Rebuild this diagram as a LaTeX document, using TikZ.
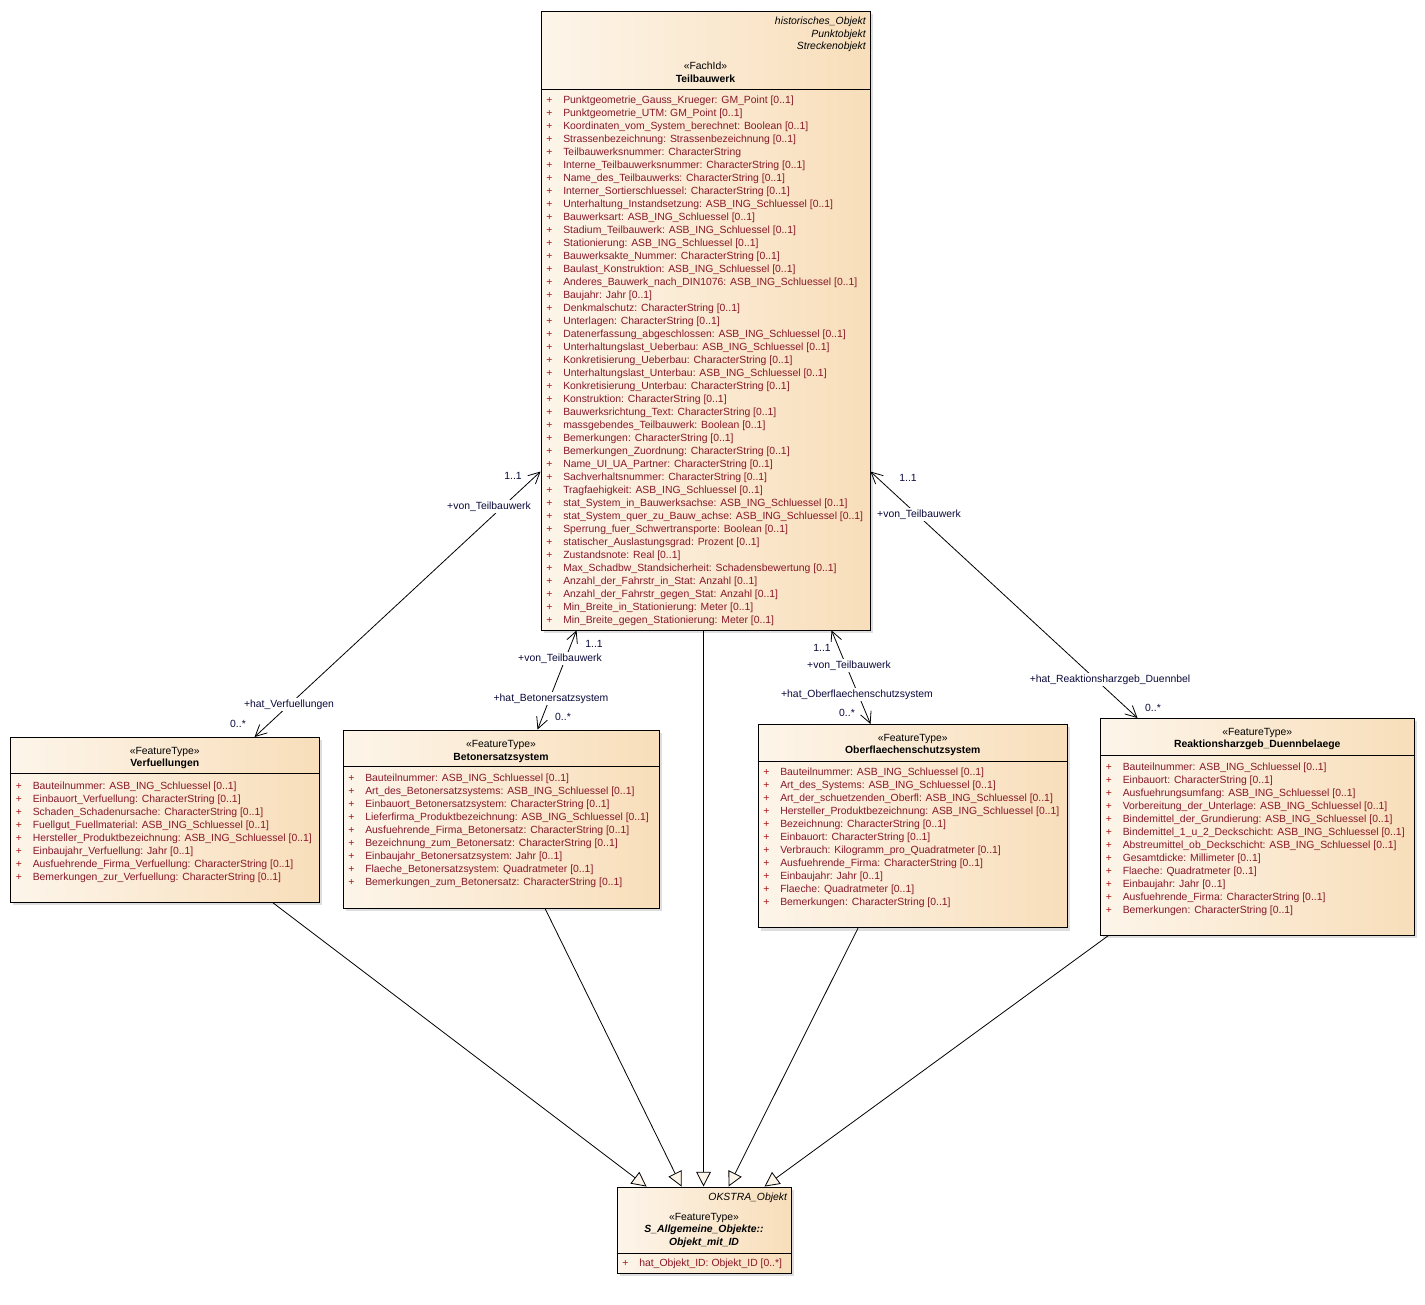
\documentclass[tikz,border=0pt]{standalone}
\usepackage{fontspec}
\setmainfont{Liberation Sans}
\usepackage{array}
\usetikzlibrary{arrows.meta,calc,fit,shadows}

\definecolor{boxl}{RGB}{253,245,234}
\definecolor{boxr}{RGB}{248,222,186}
\definecolor{attrc}{RGB}{136,24,40}
\definecolor{plusc}{RGB}{170,20,20}
\definecolor{labc}{RGB}{10,10,60}

\newcommand\attrline[1]{\textcolor{plusc}{+}&\textcolor{attrc}{#1}\\}
\newcommand\umlfont{\fontsize{7.8pt}{9.75pt}\selectfont}
\newenvironment{attrtab}{\begin{tabular}[t]{@{}p{12.75pt}@{}l@{}}}{\end{tabular}}

\tikzset{
 umlbox/.style={draw=black, line width=0.7pt, left color=boxl, right color=boxr, inner sep=0pt,
   general shadow={fill=black!13, shadow xshift=2.2pt, shadow yshift=-2.2pt}},
 attrs/.style={anchor=base west, inner sep=0pt, font=\umlfont},
 hdr/.style={anchor=base, inner sep=0pt, font=\umlfont},
 hdrb/.style={anchor=base, inner sep=0pt, font=\umlfont\bfseries},
 hdrbi/.style={anchor=base, inner sep=0pt, font=\umlfont\bfseries\itshape},
 hdri/.style={anchor=base east, inner sep=0pt, font=\umlfont\itshape},
 lab/.style={anchor=base, inner sep=1.2pt, fill=white, font=\umlfont, text=labc},
 assoc/.style={draw=black, line width=0.6pt, {Straight Barb[length=8.5pt,width=8.5pt]}-{Straight Barb[length=8.5pt,width=8.5pt]}},
 gen/.style={draw=black, line width=0.6pt, -{Triangle[length=11pt,width=11pt,fill=boxl]}},
 sep/.style={draw=black, line width=0.7pt},
}

\begin{document}
\begin{tikzpicture}[x=0.75pt,y=-0.75pt]
\useasboundingbox (0,0) rectangle (1425,1304);
\fill[white] (0,0) rectangle (1425,1304);

% ---------------- boxes
\node[umlbox, fit={(541,11) (870,630)}] (tbw) {};
\node[umlbox, fit={(10.5,737.5) (319,902)}] (vfl) {};
\node[umlbox, fit={(343,730) (659,908)}] (bes) {};
\node[umlbox, fit={(758,724.5) (1067.5,927.7)}] (osc) {};
\node[umlbox, fit={(1100.5,718.5) (1414,935)}] (rhd) {};
\node[umlbox, fit={(617,1187) (791,1273)}] (obj) {};

\draw[sep] (tbw.west |- 0,89) -- (tbw.east |- 0,89);
\draw[sep] (vfl.west |- 0,773) -- (vfl.east |- 0,773);
\draw[sep] (bes.west |- 0,766.7) -- (bes.east |- 0,766.7);
\draw[sep] (osc.west |- 0,761) -- (osc.east |- 0,761);
\draw[sep] (rhd.west |- 0,755) -- (rhd.east |- 0,755);
\draw[sep] (obj.west |- 0,1253) -- (obj.east |- 0,1253);

% ---------------- Teilbauwerk
\node[hdri] (tbwst1) at (866,24) {historisches\_Objekt};
\node[hdri] (tbwst2) at (866,37) {Punktobjekt};
\node[hdri] (tbwst3) at (866,49.5) {Streckenobjekt};
\node[hdr] (tbwst) at (705.5,69.3) {«FachId»};
\node[hdrb] (tbwname) at (705.5,82) {Teilbauwerk};
\node[attrs] (tbwattr) at (546,103) {\begin{attrtab}
\attrline{Punktgeometrie\_Gauss\_Krueger: GM\_Point [0..1]}
\attrline{Punktgeometrie\_UTM: GM\_Point [0..1]}
\attrline{Koordinaten\_vom\_System\_berechnet: Boolean [0..1]}
\attrline{Strassenbezeichnung: Strassenbezeichnung [0..1]}
\attrline{Teilbauwerksnummer: CharacterString}
\attrline{Interne\_Teilbauwerksnummer: CharacterString [0..1]}
\attrline{Name\_des\_Teilbauwerks: CharacterString [0..1]}
\attrline{Interner\_Sortierschluessel: CharacterString [0..1]}
\attrline{Unterhaltung\_Instandsetzung: ASB\_ING\_Schluessel [0..1]}
\attrline{Bauwerksart: ASB\_ING\_Schluessel [0..1]}
\attrline{Stadium\_Teilbauwerk: ASB\_ING\_Schluessel [0..1]}
\attrline{Stationierung: ASB\_ING\_Schluessel [0..1]}
\attrline{Bauwerksakte\_Nummer: CharacterString [0..1]}
\attrline{Baulast\_Konstruktion: ASB\_ING\_Schluessel [0..1]}
\attrline{Anderes\_Bauwerk\_nach\_DIN1076: ASB\_ING\_Schluessel [0..1]}
\attrline{Baujahr: Jahr [0..1]}
\attrline{Denkmalschutz: CharacterString [0..1]}
\attrline{Unterlagen: CharacterString [0..1]}
\attrline{Datenerfassung\_abgeschlossen: ASB\_ING\_Schluessel [0..1]}
\attrline{Unterhaltungslast\_Ueberbau: ASB\_ING\_Schluessel [0..1]}
\attrline{Konkretisierung\_Ueberbau: CharacterString [0..1]}
\attrline{Unterhaltungslast\_Unterbau: ASB\_ING\_Schluessel [0..1]}
\attrline{Konkretisierung\_Unterbau: CharacterString [0..1]}
\attrline{Konstruktion: CharacterString [0..1]}
\attrline{Bauwerksrichtung\_Text: CharacterString [0..1]}
\attrline{massgebendes\_Teilbauwerk: Boolean [0..1]}
\attrline{Bemerkungen: CharacterString [0..1]}
\attrline{Bemerkungen\_Zuordnung: CharacterString [0..1]}
\attrline{Name\_UI\_UA\_Partner: CharacterString [0..1]}
\attrline{Sachverhaltsnummer: CharacterString [0..1]}
\attrline{Tragfaehigkeit: ASB\_ING\_Schluessel [0..1]}
\attrline{stat\_System\_in\_Bauwerksachse: ASB\_ING\_Schluessel [0..1]}
\attrline{stat\_System\_quer\_zu\_Bauw\_achse: ASB\_ING\_Schluessel [0..1]}
\attrline{Sperrung\_fuer\_Schwertransporte: Boolean [0..1]}
\attrline{statischer\_Auslastungsgrad: Prozent [0..1]}
\attrline{Zustandsnote: Real [0..1]}
\attrline{Max\_Schadbw\_Standsicherheit: Schadensbewertung [0..1]}
\attrline{Anzahl\_der\_Fahrstr\_in\_Stat: Anzahl [0..1]}
\attrline{Anzahl\_der\_Fahrstr\_gegen\_Stat: Anzahl [0..1]}
\attrline{Min\_Breite\_in\_Stationierung: Meter [0..1]}
\attrline{Min\_Breite\_gegen\_Stationierung: Meter [0..1]}
\end{attrtab}};

% ---------------- Verfuellungen
\node[hdr] (vflst) at (164.75,754.7) {«FeatureType»};
\node[hdrb] (vflname) at (164.75,766.7) {Verfuellungen};
\node[attrs] (vflattr) at (15.5,789) {\begin{attrtab}
\attrline{Bauteilnummer: ASB\_ING\_Schluessel [0..1]}
\attrline{Einbauort\_Verfuellung: CharacterString [0..1]}
\attrline{Schaden\_Schadenursache: CharacterString [0..1]}
\attrline{Fuellgut\_Fuellmaterial: ASB\_ING\_Schluessel [0..1]}
\attrline{Hersteller\_Produktbezeichnung: ASB\_ING\_Schluessel [0..1]}
\attrline{Einbaujahr\_Verfuellung: Jahr [0..1]}
\attrline{Ausfuehrende\_Firma\_Verfuellung: CharacterString [0..1]}
\attrline{Bemerkungen\_zur\_Verfuellung: CharacterString [0..1]}
\end{attrtab}};

% ---------------- Betonersatzsystem
\node[hdr] (besst) at (501,747.3) {«FeatureType»};
\node[hdrb] (besname) at (501,760) {Betonersatzsystem};
\node[attrs] (besattr) at (348,781.3) {\begin{attrtab}
\attrline{Bauteilnummer: ASB\_ING\_Schluessel [0..1]}
\attrline{Art\_des\_Betonersatzsystems: ASB\_ING\_Schluessel [0..1]}
\attrline{Einbauort\_Betonersatzsystem: CharacterString [0..1]}
\attrline{Lieferfirma\_Produktbezeichnung: ASB\_ING\_Schluessel [0..1]}
\attrline{Ausfuehrende\_Firma\_Betonersatz: CharacterString [0..1]}
\attrline{Bezeichnung\_zum\_Betonersatz: CharacterString [0..1]}
\attrline{Einbaujahr\_Betonersatzsystem: Jahr [0..1]}
\attrline{Flaeche\_Betonersatzsystem: Quadratmeter [0..1]}
\attrline{Bemerkungen\_zum\_Betonersatz: CharacterString [0..1]}
\end{attrtab}};

% ---------------- Oberflaechenschutzsystem
\node[hdr] (oscst) at (912.75,741.3) {«FeatureType»};
\node[hdrb] (oscname) at (912.75,753.3) {Oberflaechenschutzsystem};
\node[attrs] (oscattr) at (763,775.7) {\begin{attrtab}
\attrline{Bauteilnummer: ASB\_ING\_Schluessel [0..1]}
\attrline{Art\_des\_Systems: ASB\_ING\_Schluessel [0..1]}
\attrline{Art\_der\_schuetzenden\_Oberfl: ASB\_ING\_Schluessel [0..1]}
\attrline{Hersteller\_Produktbezeichnung: ASB\_ING\_Schluessel [0..1]}
\attrline{Bezeichnung: CharacterString [0..1]}
\attrline{Einbauort: CharacterString [0..1]}
\attrline{Verbrauch: Kilogramm\_pro\_Quadratmeter [0..1]}
\attrline{Ausfuehrende\_Firma: CharacterString [0..1]}
\attrline{Einbaujahr: Jahr [0..1]}
\attrline{Flaeche: Quadratmeter [0..1]}
\attrline{Bemerkungen: CharacterString [0..1]}
\end{attrtab}};

% ---------------- Reaktionsharzgeb_Duennbelaege
\node[hdr] (rhdst) at (1257.25,735) {«FeatureType»};
\node[hdrb] (rhdname) at (1257.25,747.3) {Reaktionsharzgeb\_Duennbelaege};
\node[attrs] (rhdattr) at (1105.5,770) {\begin{attrtab}
\attrline{Bauteilnummer: ASB\_ING\_Schluessel [0..1]}
\attrline{Einbauort: CharacterString [0..1]}
\attrline{Ausfuehrungsumfang: ASB\_ING\_Schluessel [0..1]}
\attrline{Vorbereitung\_der\_Unterlage: ASB\_ING\_Schluessel [0..1]}
\attrline{Bindemittel\_der\_Grundierung: ASB\_ING\_Schluessel [0..1]}
\attrline{Bindemittel\_1\_u\_2\_Deckschicht: ASB\_ING\_Schluessel [0..1]}
\attrline{Abstreumittel\_ob\_Deckschicht: ASB\_ING\_Schluessel [0..1]}
\attrline{Gesamtdicke: Millimeter [0..1]}
\attrline{Flaeche: Quadratmeter [0..1]}
\attrline{Einbaujahr: Jahr [0..1]}
\attrline{Ausfuehrende\_Firma: CharacterString [0..1]}
\attrline{Bemerkungen: CharacterString [0..1]}
\end{attrtab}};

% ---------------- S_Allgemeine_Objekte::Objekt_mit_ID
\node[hdri] (objst1) at (787.3,1200.7) {OKSTRA\_Objekt};
\node[hdr] (objst) at (704,1220.5) {«FeatureType»};
\node[hdrbi] (objname1) at (704,1232.5) {S\_Allgemeine\_Objekte::};
\node[hdrbi] (objname2) at (704,1245) {Objekt\_mit\_ID};
\node[attrs] (objattr) at (622,1266.5) {\begin{attrtab}
\attrline{hat\_Objekt\_ID: Objekt\_ID [0..*]}
\end{attrtab}};

% ---------------- associations
\draw[assoc] ($(tbw.north west)+(0,461)$) -- ($(vfl.north west)+(244.5,0)$);
\draw[assoc] ($(tbw.south west)+(36,0)$) -- ($(bes.north west)+(195,0)$);
\draw[assoc] ($(tbw.south west)+(291,0)$) -- ($(osc.north west)+(113,0)$);
\draw[assoc] ($(tbw.north east)+(0,461)$) -- ($(rhd.north west)+(37.5,0)$);

\node[lab] (a1m) at (513,479) {1..1};
\node[lab] (a1r) at (489,509) {+von\_Teilbauwerk};
\node[lab] (a1s) at (289,707) {+hat\_Verfuellungen};
\node[lab] (a1n) at (238,727) {0..*};

\node[lab] (a2m) at (594,647) {1..1};
\node[lab] (a2r) at (560,661) {+von\_Teilbauwerk};
\node[lab] (a2s) at (551,701) {+hat\_Betonersatzsystem};
\node[lab] (a2n) at (563,720) {0..*};

\node[lab] (a3m) at (822,651) {1..1};
\node[lab] (a3r) at (849,668) {+von\_Teilbauwerk};
\node[lab] (a3s) at (857,697) {+hat\_Oberflaechenschutzsystem};
\node[lab] (a3n) at (847,716) {0..*};

\node[lab] (a4m) at (908,481) {1..1};
\node[lab] (a4r) at (919,517) {+von\_Teilbauwerk};
\node[lab] (a4s) at (1110,682) {+hat\_Reaktionsharzgeb\_Duennbel};
\node[lab] (a4n) at (1153,711) {0..*};

% ---------------- generalizations
\draw[gen] ($(vfl.south west)+(262.5,0)$) -- ($(obj.north west)+(30,0)$);
\draw[gen] ($(bes.south west)+(202.5,0)$) -- ($(obj.north west)+(65,0)$);
\draw[gen] ($(tbw.south west)+(163,0)$) -- ($(obj.north west)+(87,0)$);
\draw[gen] ($(osc.south west)+(100.5,0)$) -- ($(obj.north west)+(112,0)$);
\draw[gen] ($(rhd.south west)+(8.5,0)$) -- ($(obj.north west)+(148,0)$);
\end{tikzpicture}
\end{document}
